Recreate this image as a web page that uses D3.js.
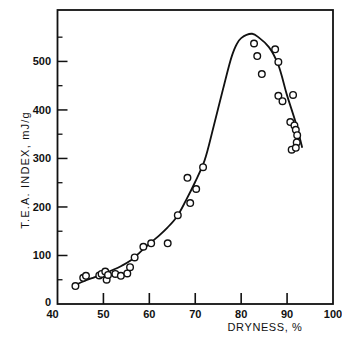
<!DOCTYPE html>
<html><head><meta charset="utf-8">
<script src="https://cdn.jsdelivr.net/npm/d3@7"></script>
<style>body{margin:0;background:#fff}svg{display:block}</style>
</head><body>
<script>
const xTicks = [40, 50, 60, 70, 80, 90, 100];
const yTicks = [0, 100, 200, 300, 400, 500];
const yMinorTicks = [50, 150, 250, 350, 450, 550];
const dryness = [43.9,45.6,46.2,49.1,49.6,50.4,50.7,51.0,52.6,53.8,55.2,55.8,56.8,58.7,60.4,64.0,66.2,68.3,68.9,70.2,71.7,82.8,83.5,84.5,87.4,88.1,88.1,89.0,91.3,90.7,91.6,91.9,92.2,92.1,91.0,91.9];
const tea =     [37,  54,  58,  59,  62,  67,  50,  60,  62,  58,  63,  76,  96, 118, 125, 125, 183, 260, 208, 237, 282, 537, 511, 474, 525, 499, 429, 418, 431, 375, 368, 359, 348, 333, 318, 322];
const curveX = [44, 46, 48, 50, 52, 54, 56, 58, 60, 62, 64, 66, 68, 70, 72, 74, 76, 78, 79, 80, 82.4, 84, 86, 88, 90, 92, 93.3];
const curveY = [40, 48, 55, 62, 70, 79, 90, 107, 124, 140, 158, 180, 214, 252, 295, 366, 441, 512, 535, 548, 557, 548, 530, 495, 430, 370, 322];

const W = 342, H = 342;
const L = 57.5, R = 333, T = 10, B = 304;
const svg = d3.select("body").append("svg").attr("width", W).attr("height", H);
const x = d3.scaleLinear().domain([40, 100]).range([L, R]);
const y = d3.scaleLinear().domain([0, 606]).range([B, T]);
const ink = "#111";

// frame
svg.append("rect").attr("x", L).attr("y", T).attr("width", R - L).attr("height", B - T)
  .attr("fill", "none").attr("stroke", ink).attr("stroke-width", 1.8);

// x ticks (inside, upward)
svg.append("g").selectAll("line").data(xTicks.filter(d => d > 40 && d < 100)).join("line")
  .attr("x1", d => x(d)).attr("x2", d => x(d)).attr("y1", B).attr("y2", B - 11)
  .attr("stroke", ink).attr("stroke-width", 1.6);
svg.append("g").selectAll("text").data(xTicks).join("text")
  .attr("x", d => x(d) + (d === 40 ? -5 : 0)).attr("y", 318)
  .attr("text-anchor", "middle").attr("font-family", "Liberation Sans, Arial, sans-serif")
  .attr("font-weight", "bold").attr("font-size", 11).attr("fill", ink).text(d => d);

// y ticks (inside, rightward)
svg.append("g").selectAll("line").data(yTicks.filter(d => d > 0)).join("line")
  .attr("x1", L).attr("x2", L + 10).attr("y1", d => y(d)).attr("y2", d => y(d))
  .attr("stroke", ink).attr("stroke-width", 1.5);
svg.append("g").selectAll("line").data(yMinorTicks).join("line")
  .attr("x1", L).attr("x2", L + 5).attr("y1", d => y(d)).attr("y2", d => y(d))
  .attr("stroke", ink).attr("stroke-width", 1.3);
svg.append("g").selectAll("text").data(yTicks).join("text")
  .attr("x", 51).attr("y", d => y(d) + (d === 0 ? 2 : 4))
  .attr("text-anchor", "end").attr("font-family", "Liberation Sans, Arial, sans-serif")
  .attr("font-weight", "bold").attr("font-size", 11).attr("fill", ink).text(d => d);

// axis titles
svg.append("text").attr("x", 265).attr("y", 331).attr("text-anchor", "middle")
  .attr("font-family", "Liberation Sans, Arial, sans-serif").attr("font-size", 11)
  .attr("letter-spacing", 0.6).attr("fill", ink).text("DRYNESS, %");
svg.append("text").attr("transform", "translate(29,170) rotate(-90)").attr("text-anchor", "middle")
  .attr("font-family", "Liberation Sans, Arial, sans-serif").attr("font-size", 11)
  .attr("letter-spacing", 1.2).attr("fill", ink).text("T.E.A. INDEX, mJ/g");

// fitted curve
const line = d3.line().x(d => x(d[0])).y(d => y(d[1])).curve(d3.curveCatmullRom.alpha(0.5));
svg.append("path").datum(curveX.map((v, i) => [v, curveY[i]]))
  .attr("d", line).attr("fill", "none").attr("stroke", ink).attr("stroke-width", 1.8);

// data points
svg.append("g").selectAll("circle").data(dryness.map((v, i) => [v, tea[i]])).join("circle")
  .attr("cx", d => x(d[0])).attr("cy", d => y(d[1])).attr("r", 3.3)
  .attr("fill", "#fff").attr("stroke", ink).attr("stroke-width", 1.4);
</script>
</body></html>
